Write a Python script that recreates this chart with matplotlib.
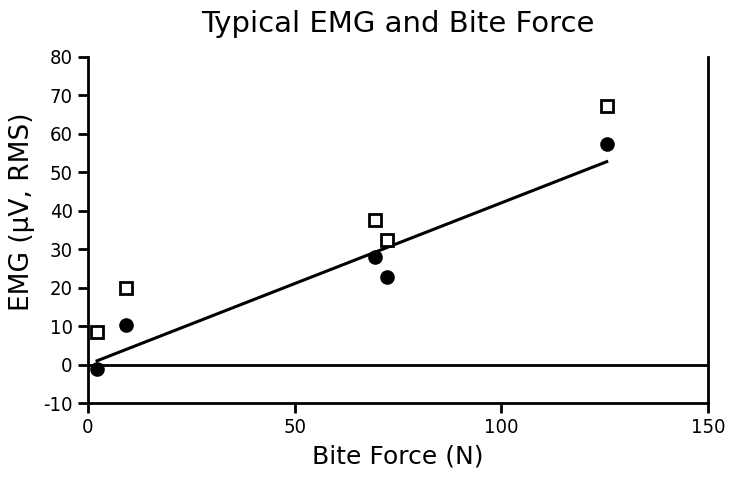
import numpy as np
import matplotlib.pyplot as plt

# values
bite_force = [2.2, 9.2, 69.4, 72.3, 125.5]
emg_filled = [-1.2, 10.3, 28.0, 22.8, 57.4]
emg_open = [8.5, 20.0, 37.6, 32.4, 67.2]

plt.rcParams["font.family"] = "DejaVu Sans"
plt.rcParams["axes.unicode_minus"] = False

fig = plt.figure(figsize=(7.29, 4.78), dpi=100)
ax = fig.add_axes([0.1207, 0.1569, 0.8505, 0.7239])

# regression line through the filled points
slope, icpt = np.polyfit(bite_force, emg_filled, 1)
xs = np.array([bite_force[0], bite_force[-1]])
ax.plot(xs, slope * xs + icpt, color="black", lw=2.2, zorder=2)

ax.axhline(0, color="black", lw=2, zorder=1)
ax.plot(bite_force, emg_open, "s", mfc="white", mec="black", mew=2, ms=8.5, zorder=3)
ax.plot(bite_force, emg_filled, "o", color="black", ms=9.5, zorder=3)

ax.set_xlim(0, 150)
ax.set_ylim(-10, 80)
ax.set_xticks([0, 50, 100, 150])
ax.set_yticks(range(-10, 81, 10))

for s in ["left", "bottom", "right"]:
    ax.spines[s].set_linewidth(2)
ax.spines["top"].set_visible(False)
ax.tick_params(direction="out", length=7, width=2, labelsize=14.5, pad=4)
for lab in ax.get_xticklabels() + ax.get_yticklabels():
    lab.set_fontstretch("condensed")

ax.set_title("Typical EMG and Bite Force", fontsize=21, pad=18)
ax.set_xlabel("Bite Force (N)", fontsize=18, labelpad=5)
ax.set_ylabel("EMG (\u00b5V, RMS)", fontsize=19)
ax.yaxis.set_label_coords(-0.085, 0.552)

fig.savefig("out.png", dpi=100)
